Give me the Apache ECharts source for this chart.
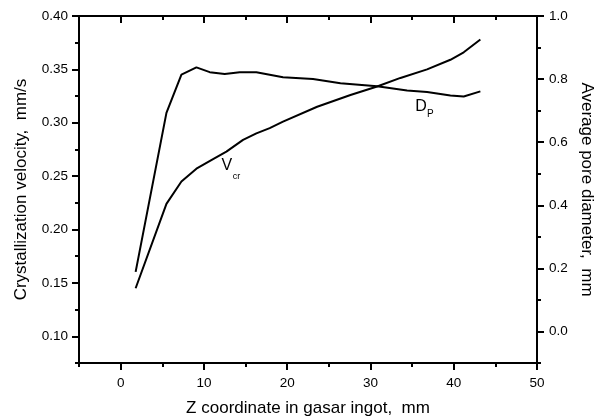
<!DOCTYPE html>
<html>
<head>
<meta charset="utf-8">
<script src="https://cdn.jsdelivr.net/npm/echarts@6/dist/echarts.min.js"></script>
<style>
  html, body {margin: 0; padding: 0; background: #fff;}
  #chart {width: 599px; height: 419px;}
</style>
</head>
<body>
<div id="chart"></div>
<script>
// crystallization velocity, left axis (mm/s)
var vcrX = [1.8, 5.5, 7.3, 9.1, 11.1, 12.7, 14.7, 16.3, 17.9, 19.5, 23.6, 27.6, 30.8, 33.6, 36.8, 39.6, 41.2, 43.2];
var vcrY = [0.145, 0.224, 0.245, 0.257, 0.266, 0.273, 0.284, 0.290, 0.295, 0.301, 0.315, 0.326, 0.334, 0.342, 0.350, 0.359, 0.366, 0.378];
// average pore diameter, right axis (mm)
var dpX = [1.8, 5.5, 7.3, 9.1, 10.7, 12.5, 14.3, 16.3, 17.9, 19.5, 23.1, 26.4, 30.8, 34.4, 36.8, 39.6, 41.2, 43.2];
var dpY = [0.189, 0.693, 0.814, 0.837, 0.822, 0.816, 0.822, 0.822, 0.814, 0.806, 0.800, 0.787, 0.777, 0.764, 0.759, 0.748, 0.745, 0.761];

var xMajorTicks = [0, 10, 20, 30, 40, 50];
var xMinorTicks = [-5, 5, 15, 25, 35, 45];
var leftMajorTicks = [0.10, 0.15, 0.20, 0.25, 0.30, 0.35, 0.40];
var leftMinorTicks = [0.075, 0.125, 0.175, 0.225, 0.275, 0.325, 0.375];
var rightMajorTicks = [0.0, 0.2, 0.4, 0.6, 0.8, 1.0];
var rightMinorTicks = [-0.1, 0.1, 0.3, 0.5, 0.7, 0.9];

var font = 'Arial, "Liberation Sans", sans-serif';
var black = '#000';

function pairs(xs, ys) {
    var out = [];
    for (var i = 0; i < xs.length; i++) out.push([xs[i], ys[i]]);
    return out;
}

// text label placed at a data coordinate
function tag(text, coord, size) {
    return {
        coord: coord, symbol: 'circle', symbolSize: 1,
        itemStyle: {color: 'transparent'},
        label: {show: true, position: 'inside', formatter: text, color: black, fontSize: size, fontFamily: font}
    };
}

function ticks(values, len, inside) {
    return {show: true, customValues: values, length: len, inside: !!inside, lineStyle: {color: black, width: 2}};
}

function axisBase(extra) {
    var a = {
        type: 'value',
        splitLine: {show: false},
        axisLine: {show: true, onZero: false, lineStyle: {color: black, width: 2}},
        axisLabel: {show: false},
        nameTextStyle: {color: black, fontSize: 17, fontFamily: font}
    };
    for (var k in extra) a[k] = extra[k];
    return a;
}

var noLine = {show: false, onZero: false};
var tickLabel = {show: true, color: black, fontSize: 13.5, fontFamily: font};

var chart = echarts.init(document.getElementById('chart'));
chart.setOption({
    animation: false,
    backgroundColor: '#fff',
    grid: [
        {left: 79, right: 62, top: 16, bottom: 56, outerBoundsMode: 'none'},
        {left: 79, right: 62, top: 16, bottom: 56, outerBoundsMode: 'none'}
    ],
    xAxis: [
        axisBase({
            gridIndex: 0, position: 'bottom', min: -5, max: 50,
            axisTick: ticks(xMajorTicks, 7),
            axisLabel: Object.assign({customValues: xMajorTicks, margin: 13}, tickLabel),
            name: 'Z coordinate in gasar ingot,  mm', nameLocation: 'middle', nameGap: 37
        }),
        axisBase({
            gridIndex: 0, position: 'top', min: -5, max: 50,
            axisTick: ticks(xMajorTicks, 7, true)
        }),
        axisBase({
            gridIndex: 1, position: 'bottom', min: -5, max: 50,
            axisLine: noLine, axisTick: ticks(xMinorTicks, 4)
        }),
        axisBase({
            gridIndex: 1, position: 'top', min: -5, max: 50,
            axisLine: noLine, axisTick: ticks(xMinorTicks, 4, true)
        })
    ],
    yAxis: [
        axisBase({
            gridIndex: 0, position: 'left', min: 0.075, max: 0.40,
            axisTick: ticks(leftMajorTicks, 7),
            axisLabel: Object.assign({customValues: leftMajorTicks, margin: 11,
                formatter: function (v) { return v.toFixed(2); }}, tickLabel),
            name: 'Crystallization velocity,  mm/s', nameLocation: 'middle', nameGap: 49
        }),
        axisBase({
            gridIndex: 0, position: 'right', min: -0.1, max: 1.0,
            axisTick: ticks(rightMajorTicks, 7),
            axisLabel: Object.assign({customValues: rightMajorTicks, margin: 12,
                formatter: function (v) { return v.toFixed(1); }}, tickLabel),
            name: 'Average pore diameter,  mm', nameLocation: 'middle', nameGap: 40, nameRotate: -90
        }),
        axisBase({
            gridIndex: 1, position: 'left', min: 0.075, max: 0.40,
            axisLine: noLine, axisTick: ticks(leftMinorTicks, 4)
        }),
        axisBase({
            gridIndex: 1, position: 'right', min: -0.1, max: 1.0,
            axisLine: noLine, axisTick: ticks(rightMinorTicks, 4)
        })
    ],
    series: [
        {
            name: 'Vcr', type: 'line', xAxisIndex: 0, yAxisIndex: 0,
            data: pairs(vcrX, vcrY), showSymbol: false,
            lineStyle: {color: black, width: 2}, itemStyle: {color: black},
            markPoint: {silent: true, data: [tag('V', [12.74, 0.2596], 16), tag('cr', [13.9, 0.25], 9)]}
        },
        {
            name: 'Dp', type: 'line', xAxisIndex: 0, yAxisIndex: 1,
            data: pairs(dpX, dpY), showSymbol: false,
            lineStyle: {color: black, width: 2}, itemStyle: {color: black},
            markPoint: {silent: true, data: [tag('D', [36.08, 0.7133], 16), tag('P', [37.2, 0.6874], 10)]}
        }
    ]
});
</script>
</body>
</html>
